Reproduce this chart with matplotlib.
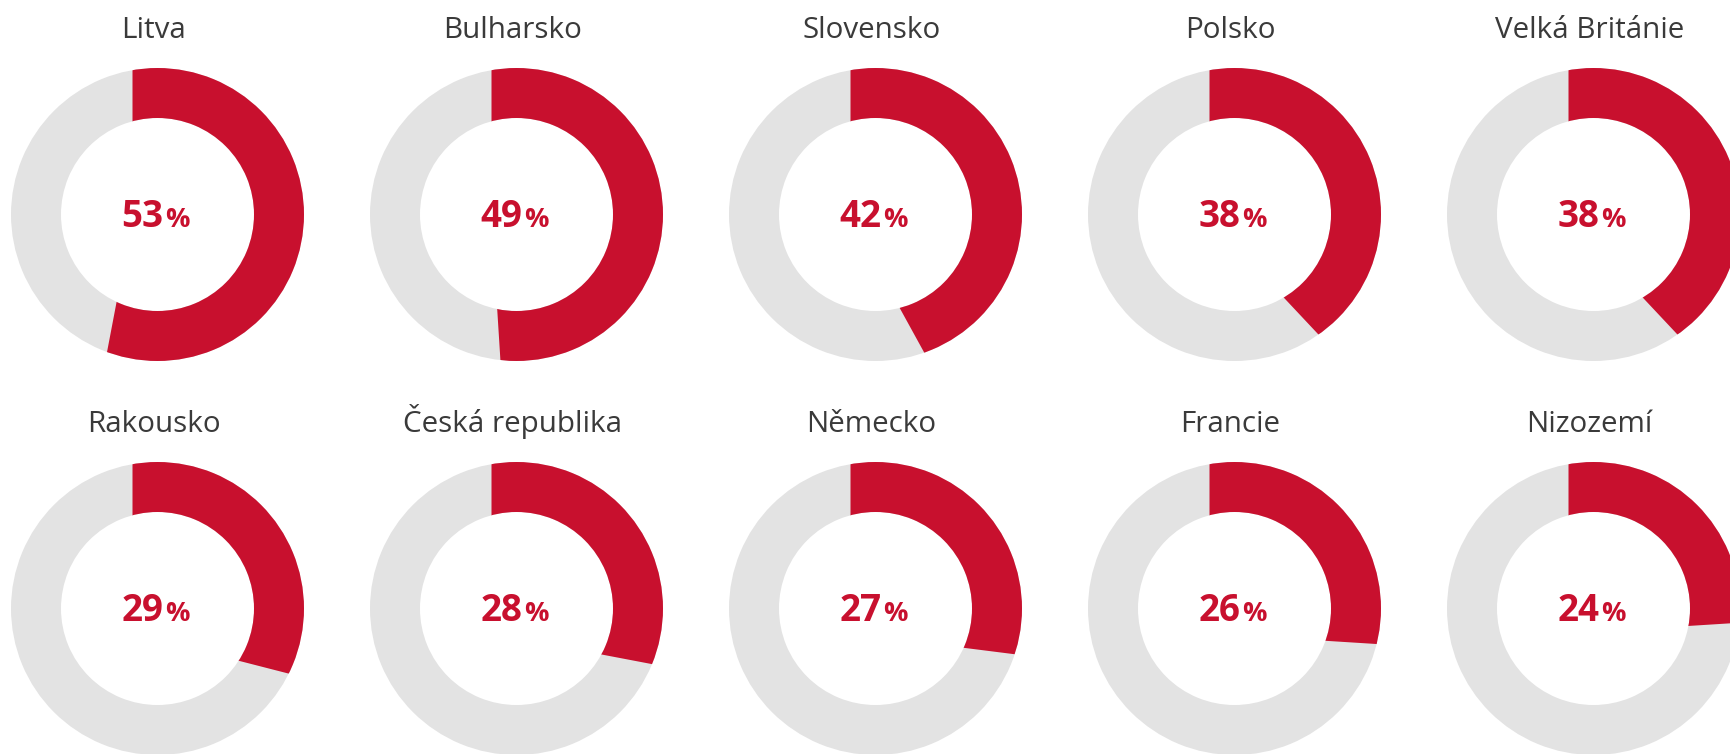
import matplotlib
matplotlib.use("Agg")
import matplotlib.pyplot as plt
from matplotlib.patches import Wedge

countries = ["Litva", "Bulharsko", "Slovensko", "Polsko", "Velká Británie",
             "Rakousko", "Česká republika", "Německo", "Francie", "Nizozemí"]
shares = [53, 49, 42, 38, 38, 29, 28, 27, 26, 24]

RED = "#C8102E"
GREY = "#E3E3E3"
W, H = 1731, 754

plt.rcParams['font.family'] = ['Open Sans', 'DejaVu Sans']

fig = plt.figure(figsize=(W / 100, H / 100), dpi=100)
ax = fig.add_axes([0, 0, 1, 1])
ax.set_xlim(0, W)
ax.set_ylim(0, H)
ax.set_aspect('equal')
ax.axis('off')

r_out, ring_w = 146.5, 50
col_x0, col_step = 157.5, 359
row_y = [214.5, 608.5]          # pixel rows from top
apex_dy = [4, 25]               # red slice apex sits a bit below/left of ring centre
apex_dx = -25

for i, (name, val) in enumerate(zip(countries, shares)):
    row, col = divmod(i, 5)
    cx = col_x0 + col * col_step
    cy = H - row_y[row]

    ring = Wedge((cx, cy), r_out, 0, 360, width=ring_w, facecolor=GREY,
                 edgecolor='none')
    ax.add_patch(ring)

    slice_ = Wedge((cx + apex_dx, cy - apex_dy[row]), 230, 90 - 360 * val / 100, 90,
                   facecolor=RED, edgecolor='none')
    ax.add_patch(slice_)
    slice_.set_clip_path(ring)

    ax.text(cx - 4, cy + 176.5, name, ha='center', va='baseline',
            fontsize=21.3, color='#3a3a3a')
    ax.text(cx + 6, cy - 12.5, str(val), ha='right', va='baseline',
            fontsize=26.5, fontweight='bold', color=RED)
    ax.text(cx + 8, cy - 12.5, "%", ha='left', va='baseline',
            fontsize=19.5, fontweight='bold', color=RED)

fig.savefig("out.png", dpi=100, facecolor='white')
